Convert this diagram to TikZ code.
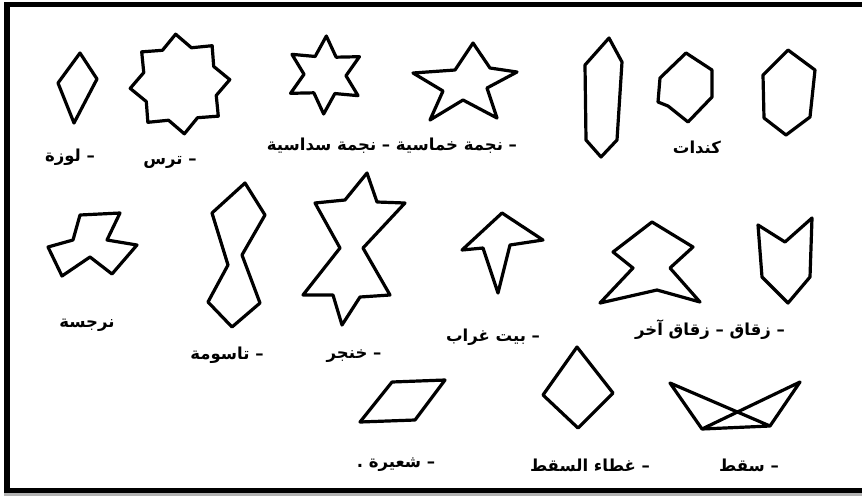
\documentclass[tikz,border=0pt]{standalone}
\usepackage{fontspec}
\newfontfamily\arabicfont[Script=Arabic]{DejaVu Sans}
\TeXXeTstate=1
\begin{document}
\begin{tikzpicture}[x=1pt,y=-1pt,
  shp/.style={draw=black,line width=3.2pt,line join=round,line cap=round},
  lbl/.style={inner sep=0pt,font=\arabicfont\bfseries\fontsize{16.5}{18}\selectfont},
  frm/.style={line width=5.5pt,black}]
\useasboundingbox (0,0) rectangle (862,496);
\fill[white] (0,0) rectangle (862,496);
% frame
\fill[gray!60] (4,493) rectangle (862,496);
\draw[frm] (4,4.5) -- (862,4.5);
\draw[frm] (7,2) -- (7,493);
\draw[frm] (4,490.5) -- (862,490.5);
% lozenge
\draw[shp] (80,53) -- (97,79) -- (74,123) -- (58,83) -- cycle;
% tirs: 8-point star
\draw[shp] plot[samples at={0,...,15}] ({180+(44+6*cos(180*\x))*cos(95+\x*22.5)},{84-(44+6*cos(180*\x))*sin(95+\x*22.5)}) -- cycle;
% hexagram
\draw[shp] plot[samples at={0,...,11}] ({325+(30+9*cos(180*\x))*cos(88+\x*30)},{75-(30+9*cos(180*\x))*sin(88+\x*30)}) -- cycle;
% pentagram
\draw[shp] (473,43) -- (490,68) -- (517,72) -- (487,88) -- (497,118) -- (463,100) -- (430,120) -- (443,91) -- (413,73) -- (455,70) -- cycle;
% kundat
\draw[shp] (609,38) -- (622,62) -- (617,140) -- (601,157) -- (586,140) -- (585,65) -- cycle;
\draw[shp] (686,53) -- (712,70) -- (712,97) -- (688,122) -- (668,106) -- (658,102) -- (660,78) -- cycle;
\draw[shp] (788,50) -- (815,70) -- (810,117) -- (786,135) -- (764,118) -- (763,75) -- cycle;
% narjisa
\draw[shp] (80,215) -- (120,213) -- (107,240) -- (137,245) -- (112,274) -- (90,257) -- (62,276) -- (48,247) -- (73,240) -- cycle;
% tasuma
\draw[shp] (245,183) -- (265,215) -- (242,255) -- (260,303) -- (232,327) -- (208,302) -- (228,265) -- (212,213) -- cycle;
% khanjar
\draw[shp] (367,173) -- (377,202) -- (405,203) -- (363,248) -- (390,295) -- (360,297) -- (342,325) -- (333,295) -- (303,295) -- (340,248) -- (315,203) -- (345,200) -- cycle;
% bayt ghurab
\draw[shp] (502,213) -- (543,240) -- (510,245) -- (498,293) -- (483,248) -- (462,250) -- cycle;
% zuqaq akhar
\draw[shp] (652,222) -- (693,247) -- (670,268) -- (700,302) -- (657,290) -- (600,303) -- (633,268) -- (613,252) -- cycle;
% zuqaq
\draw[shp] (758,225) -- (785,242) -- (812,218) -- (810,277) -- (788,303) -- (762,277) -- cycle;
% shu'ayra
\draw[shp] (392,382) -- (445,380) -- (415,420) -- (360,422) -- cycle;
% ghita' al-saqf
\draw[shp] (577,347) -- (613,393) -- (578,428) -- (543,395) -- cycle;
% saqf
\draw[shp] (770,426) -- (670,383) -- (702,429) -- (770,426) -- (800,382) -- (702,429);
% labels
\node[lbl] (l1) at (70,157) {\beginR – لوزة\endR};
\node[lbl] (l2) at (170,162) {\beginR – ترس\endR};
\node[lbl] (l3) at (392,146) {\beginR – نجمة خماسية – نجمة سداسية\endR};
\node[lbl] (l4) at (697,147) {\beginR كندات\endR};
\node[lbl] (l5) at (87,325) {\beginR نرجسة\endR};
\node[lbl] (l6) at (227,355) {\beginR – تاسومة\endR};
\node[lbl] (l7) at (354,356) {\beginR – خنجر\endR};
\node[lbl] (l8) at (493,337) {\beginR – بيت غراب\endR};
\node[lbl] (l9) at (710,330) {\beginR – زقاق – زقاق آخر\endR};
\node[lbl] (l10) at (396,465) {\beginR – شعيرة .\endR};
\node[lbl] (l11) at (590,465) {\beginR – غطاء السقط\endR};
\node[lbl] (l12) at (749,465) {\beginR – سقط\endR};
\end{tikzpicture}
\end{document}
